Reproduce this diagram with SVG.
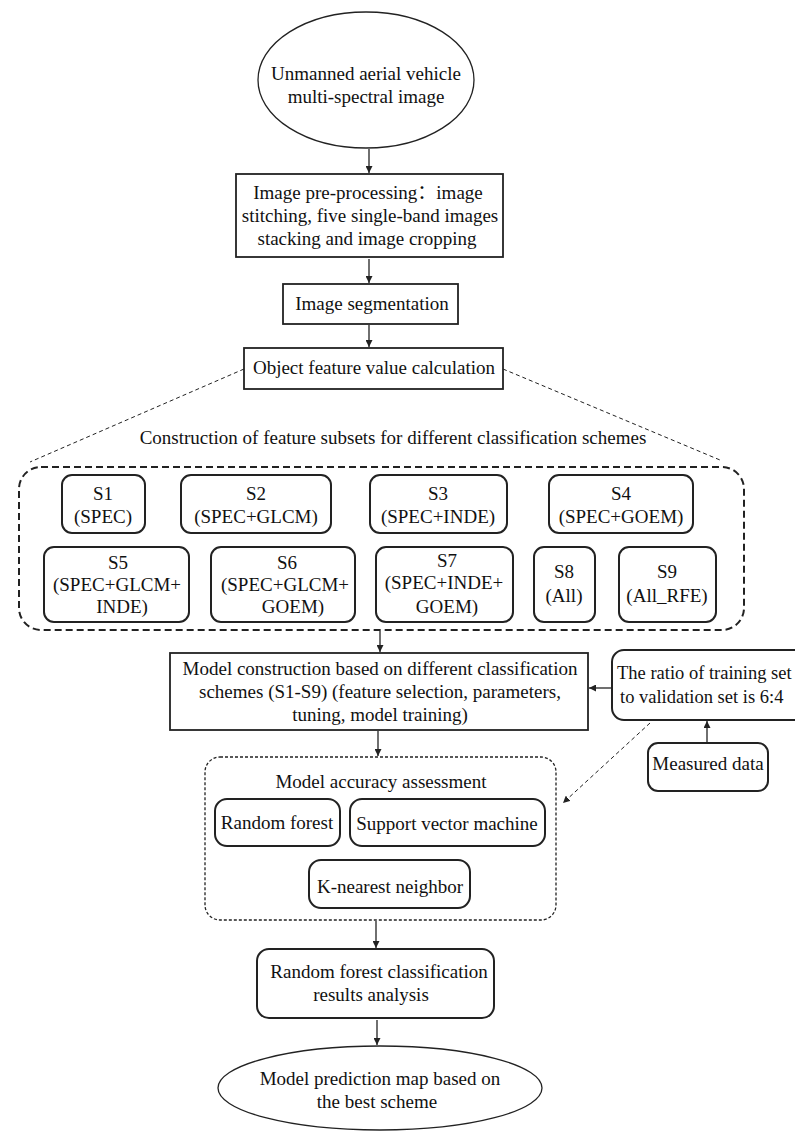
<svg xmlns="http://www.w3.org/2000/svg" width="795" height="1131" viewBox="0 0 795 1131">
<defs>
<style>
text{font-family:"Liberation Serif","Times New Roman","Noto Sans CJK SC",serif;font-size:19px;fill:#111;text-anchor:middle}
.st{text-anchor:start}
.box{fill:#fff;stroke:#222;stroke-width:1.8}
.rbox{fill:#fff;stroke:#222;stroke-width:2}
.ell{fill:#fff;stroke:#222;stroke-width:1.3}
.ln{stroke:#222;stroke-width:1.3;fill:none}
.dl{stroke:#222;stroke-width:1;fill:none;stroke-dasharray:4 3}
</style>
<marker id="ah" viewBox="0 0 10 10" refX="10" refY="5" markerWidth="7" markerHeight="7" markerUnits="userSpaceOnUse" orient="auto">
<path d="M0,0 L10,5 L0,10 z" fill="#222"/>
</marker>
</defs>
<rect width="795" height="1131" fill="#fff"/>

<g id="connectors">
<line class="ln" x1="369" y1="149" x2="369" y2="173" marker-end="url(#ah)"/>
<line class="ln" x1="369" y1="259" x2="369" y2="283" marker-end="url(#ah)"/>
<line class="ln" x1="369" y1="325" x2="369" y2="347" marker-end="url(#ah)"/>
<line class="dl" x1="244" y1="369" x2="30" y2="462"/>
<line class="dl" x1="503" y1="369" x2="720" y2="460"/>
<line class="ln" x1="380" y1="631" x2="380" y2="652" marker-end="url(#ah)"/>
<line class="ln" x1="612" y1="688" x2="589" y2="688" marker-end="url(#ah)"/>
<line class="ln" x1="707" y1="743" x2="707" y2="721" marker-end="url(#ah)"/>
<line class="dl" x1="650" y1="723" x2="563" y2="803" marker-end="url(#ah)"/>
<line class="ln" x1="378" y1="731" x2="378" y2="756" marker-end="url(#ah)"/>
<line class="ln" x1="376" y1="921" x2="376" y2="948" marker-end="url(#ah)"/>
<line class="ln" x1="377" y1="1020" x2="377" y2="1045" marker-end="url(#ah)"/>
</g>

<g id="uav">
<ellipse class="ell" cx="366" cy="80" rx="108" ry="68"/>
<text x="366" y="80">Unmanned aerial vehicle</text>
<text x="366" y="103">multi-spectral image</text>
</g>

<g id="preprocess">
<rect class="box" x="236" y="174" width="267" height="83"/>
<text x="368" y="199">Image pre-processing：image</text>
<text x="370" y="222">stitching, five single-band images</text>
<text x="367" y="245">stacking and image cropping</text>
</g>

<g id="segmentation">
<rect class="box" x="283" y="284" width="175" height="40"/>
<text x="372" y="310">Image segmentation</text>
</g>

<g id="object-feature">
<rect class="box" x="244" y="348" width="259" height="41"/>
<text x="374" y="374">Object feature value calculation</text>
</g>

<g id="feature-subsets">
<text x="393" y="444">Construction of feature subsets for different classification schemes</text>
<rect x="19" y="467" width="725" height="163" rx="22" fill="none" stroke="#222" stroke-width="2" stroke-dasharray="7 4"/>
</g>

<g id="s1"><rect class="rbox" x="62" y="475" width="83" height="58" rx="10"/><text x="103" y="500">S1</text><text x="103" y="523">(SPEC)</text></g>
<g id="s2"><rect class="rbox" x="181" y="475" width="150" height="58" rx="10"/><text x="256" y="500">S2</text><text x="256" y="523">(SPEC+GLCM)</text></g>
<g id="s3"><rect class="rbox" x="370" y="475" width="137" height="58" rx="10"/><text x="438" y="500">S3</text><text x="438" y="523">(SPEC+INDE)</text></g>
<g id="s4"><rect class="rbox" x="549" y="475" width="144" height="58" rx="10"/><text x="621" y="500">S4</text><text x="621" y="523">(SPEC+GOEM)</text></g>
<g id="s5"><rect class="rbox" x="44" y="547" width="145" height="75" rx="10"/><text x="118" y="569">S5</text><text x="117" y="591">(SPEC+GLCM+</text><text x="122" y="613">INDE)</text></g>
<g id="s6"><rect class="rbox" x="211" y="547" width="144" height="75" rx="10"/><text x="287" y="569">S6</text><text x="285" y="591">(SPEC+GLCM+</text><text x="293" y="613">GOEM)</text></g>
<g id="s7"><rect class="rbox" x="376" y="547" width="137" height="75" rx="10"/><text x="447" y="567">S7</text><text x="444" y="589">(SPEC+INDE+</text><text x="447" y="613">GOEM)</text></g>
<g id="s8"><rect class="rbox" x="534" y="547" width="61" height="75" rx="10"/><text x="564" y="578">S8</text><text x="564" y="602">(All)</text></g>
<g id="s9"><rect class="rbox" x="619" y="547" width="97" height="75" rx="10"/><text x="667" y="578">S9</text><text x="667" y="602">(All_RFE)</text></g>

<g id="model-construction">
<rect class="box" x="170" y="653" width="418" height="77" stroke-width="2"/>
<text x="380" y="675">Model construction based on different classification</text>
<text x="380" y="698">schemes (S1-S9)  (feature selection, parameters,</text>
<text x="380" y="721">tuning, model training)</text>
</g>

<g id="ratio">
<rect class="rbox" x="612" y="650" width="200" height="70" rx="12"/>
<text class="st" x="617" y="679" style="font-size:18.5px">The ratio of training set</text>
<text class="st" x="620" y="703" style="font-size:18.5px">to validation set is 6:4</text>
</g>

<g id="measured">
<rect class="rbox" x="648" y="743" width="120" height="48" rx="10" stroke-width="1.5"/>
<text x="708" y="770">Measured data</text>
</g>

<g id="accuracy">
<rect x="205" y="757" width="351" height="163" rx="15" fill="none" stroke="#222" stroke-width="1.3" stroke-dasharray="3 2"/>
<text x="381" y="788">Model accuracy assessment</text>
</g>
<g id="rf"><rect class="rbox" x="215" y="799" width="125" height="47" rx="12" stroke-width="1.5"/><text x="277" y="829">Random forest</text></g>
<g id="svm"><rect class="rbox" x="350" y="799" width="195" height="47" rx="12" stroke-width="1.5"/><text x="447" y="830">Support vector machine</text></g>
<g id="knn"><rect class="rbox" x="309" y="860" width="161" height="48" rx="12" stroke-width="1.5"/><text x="390" y="893">K-nearest neighbor</text></g>

<g id="rf-analysis">
<rect class="rbox" x="257" y="949" width="237" height="69" rx="12" stroke-width="2.5"/>
<text x="379" y="978">Random forest classification</text>
<text x="371" y="1001">results analysis</text>
</g>

<g id="prediction">
<ellipse class="ell" cx="380" cy="1088" rx="162" ry="42"/>
<text x="380" y="1085">Model prediction map based on</text>
<text x="377" y="1108">the best scheme</text>
</g>
</svg>
